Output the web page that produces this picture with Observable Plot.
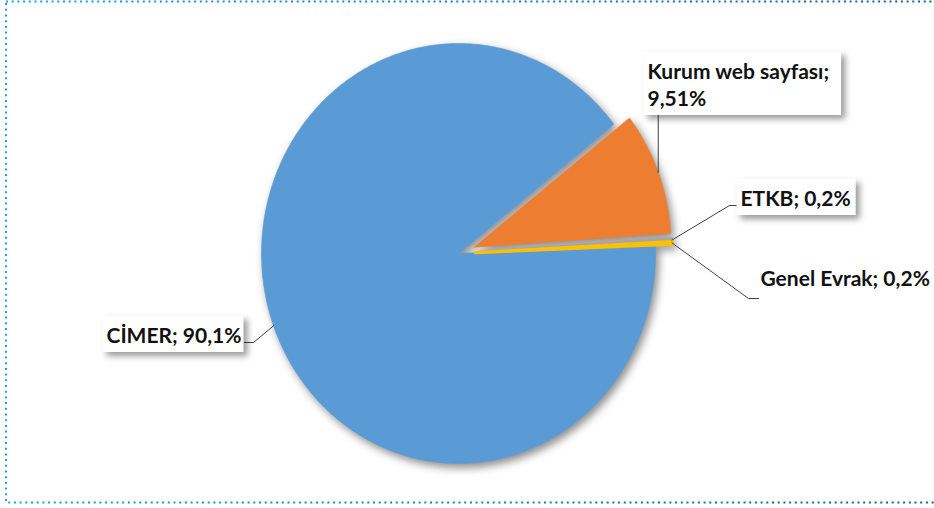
<!DOCTYPE html>
<html>
<head>
<meta charset="utf-8">
<script src="https://cdn.jsdelivr.net/npm/d3@7"></script>
<script src="https://cdn.jsdelivr.net/npm/@observablehq/plot@0.6"></script>
<style>
  html, body { margin: 0; padding: 0; background: #fff; overflow: hidden; }
  #wrap { position: relative; width: 934px; height: 508px; }
  #wrap > svg { position: absolute; left: 0; top: 0; }
</style>
</head>
<body>
<div id="wrap"></div>
<script>
// ---- data ----
const categories = ["CİMER", "Kurum web sayfası", "ETKB", "Genel Evrak"];
const shares = [90.1, 9.51, 0.2, 0.2];
const colors = ["#5b9bd5", "#ed7d31", "#a5a5a5", "#ffc000"];
const explode = [0, 0.085, 0.085, 0.085];

// ---- layout (pixels) ----
const W = 934, H = 508, CX = 458, CY = 253, RX = 197, RY = 210;
const START = 87.7 * Math.PI / 180;
const FS = 21;
const labelAnchors = [[106, 342], [647, 105], [740, 205], [760, 285]]; // text start x, last baseline y
const labelBreak = [false, true, false, false];
const elbows = [
  [[253, 342], [244, 342]],
  [[null, 115]],
  [[729, 205], [738, 205]],
  [[748, 298], [758, 298]]
];
const boxed = [true, true, true, false];
const padRight = [2, 12, 5, 8];
const sliceStroke = [0.6, 0.6, 3, 3];

const ux = px => (px - CX) / RX;
const uy = py => (CY - py) / RY;
const fmt = v => String(v).replace(".", ",") + "%";

const arcs = d3.pie().value(d => d).sort(null)
  .startAngle(START).endAngle(START + 2 * Math.PI)(shares);

const slices = [];
const leaderPts = [];
const labels = [];
arcs.forEach((a, i) => {
  const cat = categories[i];
  const mid = (a.startAngle + a.endAngle) / 2;
  const ox = explode[i] * Math.sin(mid), oy = explode[i] * Math.cos(mid);
  const n = Math.max(2, Math.ceil((a.endAngle - a.startAngle) / 0.01));
  const pts = [{x: ox, y: oy}];
  for (let k = 0; k <= n; ++k) {
    const t = a.startAngle + (a.endAngle - a.startAngle) * k / n;
    pts.push({x: ox + Math.sin(t), y: oy + Math.cos(t)});
  }
  pts.push({x: ox, y: oy});
  slices.push(pts);
  const ex = (1 + explode[i]) * Math.sin(mid), ey = (1 + explode[i]) * Math.cos(mid);
  leaderPts.push({cat, x: ex, y: ey});
  for (const [px, py] of elbows[i]) leaderPts.push({cat, x: px == null ? ex : ux(px), y: uy(py)});
  const txt = labelBreak[i] ? cat + ";\n" + fmt(shares[i]) : cat + "; " + fmt(shares[i]);
  labels.push({cat, text: txt, x: ux(labelAnchors[i][0]), y: uy(labelAnchors[i][1]), boxed: boxed[i], pr: padRight[i]});
});

const chart = Plot.plot({
  width: W, height: H, margin: 0,
  x: {domain: [-CX / RX, (W - CX) / RX], axis: null},
  y: {domain: [-(H - CY) / RY, CY / RY], axis: null},
  marks: [
    ...slices.map((pts, i) => Plot.line(pts, {x: "x", y: "y", fill: colors[i], stroke: colors[i],
        strokeWidth: sliceStroke[i], curve: "linear"})),
    Plot.line(leaderPts, {x: "x", y: "y", z: "cat", stroke: "#404040", strokeWidth: 1, curve: "linear"}),
    Plot.text(labels, {x: "x", y: "y", text: "text", textAnchor: "start", lineAnchor: "bottom", lineHeight: 27 / FS,
      fontFamily: "Lato, 'Noto Sans', sans-serif", fontWeight: 700, fontSize: FS, fill: "#111"})
  ]
});

document.getElementById("wrap").appendChild(chart);

const SVGNS = "http://www.w3.org/2000/svg";
const lineGs = Array.from(chart.querySelectorAll('g[aria-label="line"]'));

// pie shadows: wrap slice groups together so one shadow falls outside the union
try {
  const sliceGs = lineGs.slice(0, slices.length);
  if (sliceGs.length) {
    const holder = document.createElementNS(SVGNS, "g");
    sliceGs[0].parentNode.insertBefore(holder, sliceGs[0]);
    sliceGs.forEach(g => holder.appendChild(g));
    holder.style.filter = "drop-shadow(3px 4px 4px rgba(0,0,0,0.45))";
  }
} catch (e) { console.error(e); }

// label boxes
try {
  const labelG = chart.querySelector('g[aria-label="text"]');
  const texts = Array.from(labelG.querySelectorAll("text"));
  texts.forEach((t, i) => {
    const b = t.getBBox();
    const pr = labels[i] ? labels[i].pr : 8;
    const r = document.createElementNS(SVGNS, "rect");
    r.setAttribute("x", b.x - 4);
    r.setAttribute("y", b.y - 6);
    r.setAttribute("width", b.width + 4 + pr);
    r.setAttribute("height", b.height + 11.5);
    r.setAttribute("fill", "#fff");
    if (t.getAttribute("transform")) r.setAttribute("transform", t.getAttribute("transform"));
    if (labels[i] && labels[i].boxed) r.style.filter = "drop-shadow(4px 4px 3px rgba(0,0,0,0.4))";
    labelG.insertBefore(r, t);
  });
} catch (e) { console.error(e); }

// dotted frame overlay
const ov = document.createElementNS(SVGNS, "svg");
ov.setAttribute("width", W); ov.setAttribute("height", H);
ov.style.pointerEvents = "none";
ov.innerHTML = `<defs><linearGradient id="fg" x1="0" x2="1" y1="0" y2="0">
  <stop offset="0" stop-color="#1ba3e3"/><stop offset="1" stop-color="#1b5c93"/></linearGradient></defs>
  <rect x="6" y="1.5" width="960" height="501" fill="none" stroke="url(#fg)" stroke-width="2" stroke-dasharray="2 3.7"/>`;
document.getElementById("wrap").appendChild(ov);
</script>
</body>
</html>
